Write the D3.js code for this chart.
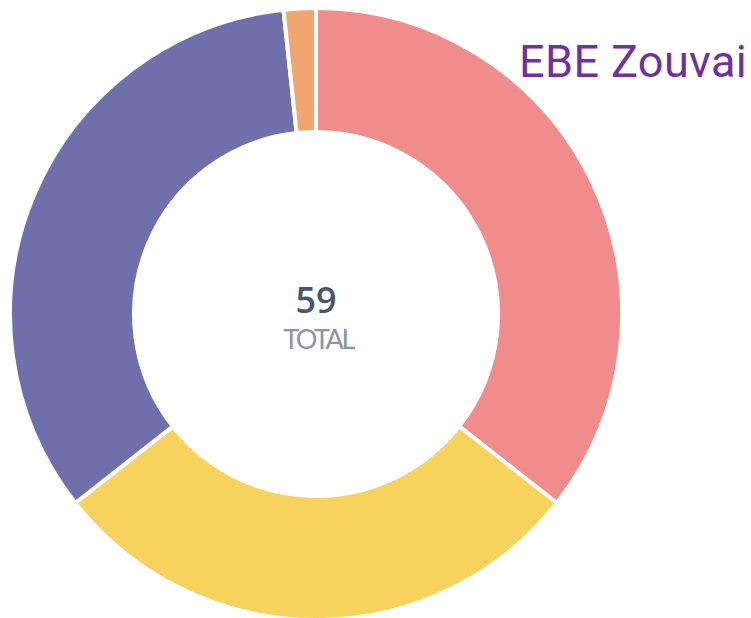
<!DOCTYPE html>
<html>
<head>
<meta charset="utf-8">
<script src="https://cdn.jsdelivr.net/npm/d3@7"></script>
<style>
  html, body { margin: 0; padding: 0; background: #fff; }
  svg { display: block; }
</style>
</head>
<body>
<div id="chart"></div>
<script>
(function () {
  'use strict';

  // Slices, clockwise from 12 o'clock
  const categories = ['A', 'B', 'C', 'D'];
  const values = [21, 17, 20, 1];
  const colors = ['#F08C8B', '#F7D35D', '#6F70AB', '#F2A66F'];
  const title = 'EBE Zouvai';
  const centerLabel = 'TOTAL';

  const W = 751, H = 618;
  const cx = 316, cy = 314;
  const outerR = 306, innerR = 182;

  const svg = d3.select('#chart').append('svg').attr('width', W).attr('height', H);
  const g = svg.append('g').attr('transform', `translate(${cx},${cy})`);

  const data = categories.map((c, i) => ({ c, v: values[i], color: colors[i] }));
  const pie = d3.pie().value(d => d.v).sort(null);
  const arc = d3.arc().innerRadius(innerR).outerRadius(outerR);

  g.selectAll('path').data(pie(data)).enter().append('path')
    .attr('d', arc)
    .attr('fill', d => d.data.color)
    .attr('stroke', '#fff')
    .attr('stroke-width', 4)
    .attr('stroke-linejoin', 'miter');

  const total = d3.sum(values);
  g.append('text').attr('x', 0).attr('y', -1)
    .attr('text-anchor', 'middle')
    .style('font-family', '"Open Sans", Lato, sans-serif')
    .style('font-size', '36px').style('font-weight', '600')
    .style('fill', '#4B5572')
    .text(total);
  g.append('text').attr('x', 2).attr('y', 35)
    .attr('text-anchor', 'middle')
    .style('font-family', 'Lato, "Open Sans", sans-serif')
    .style('font-size', '27px').style('font-weight', '400')
    .style('letter-spacing', '-2.5px')
    .style('fill', '#8A93A7')
    .text(centerLabel);

  svg.append('text').attr('x', 519).attr('y', 77)
    .style('font-family', 'Roboto, "Noto Sans", sans-serif')
    .style('font-size', '45px')
    .style('letter-spacing', '0.4px')
    .style('fill', '#7030A0')
    .text(title);
})();
</script>
</body>
</html>
